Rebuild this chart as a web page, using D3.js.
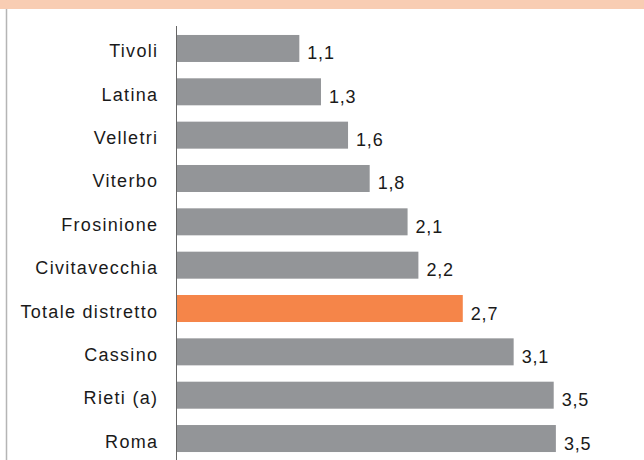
<html>
<head>
<meta charset="utf-8">
<title>Distretti</title>
<style>
body {
	margin: 0;
	background: white;
	font-family: Arial, "Liberation Sans", sans-serif;
}
svg { display: block; }
.cat {
	font-family: Arial, "Liberation Sans", sans-serif;
	font-size: 18px; letter-spacing: 1.3px;
	fill: #1a1a1a;
}
.val {
	font-family: Arial, "Liberation Sans", sans-serif;
	font-size: 18px; letter-spacing: 0.8px;
	fill: #1a1a1a;
}
</style>
</head>
<body>
<svg id="chart"></svg>
<script src="https://cdn.jsdelivr.net/npm/d3@7"></script>
<script>

var categories = ["Tivoli", "Latina", "Velletri", "Viterbo", "Frosinione", "Civitavecchia",
	"Totale distretto", "Cassino", "Rieti (a)", "Roma"];
var values = [1.13, 1.33, 1.58, 1.78, 2.13, 2.23, 2.64, 3.11, 3.48, 3.50];
var valueLabels = ["1,1", "1,3", "1,6", "1,8", "2,1", "2,2", "2,7", "3,1", "3,5", "3,5"];
var highlight = "Totale distretto";

var width = 644, height = 460;
var x0 = 177;

var svg = d3.select("#chart")
	.attr("width", width)
	.attr("height", height);

// peach band on top + left frame line
svg.append("rect")
	.attr("x", 0).attr("y", 0)
	.attr("width", width).attr("height", 9)
	.attr("fill", "#f8cdb3");
svg.append("line")
	.attr("x1", 6.5).attr("x2", 6.5)
	.attr("y1", 9).attr("y2", height)
	.attr("stroke", "#b5b5b5")
	.attr("stroke-width", 1.5);

var x = d3.scaleLinear()
	.domain([0, 4])
	.range([x0, x0 + 433]);

var y = d3.scaleBand()
	.domain(categories)
	.range([26.8, 460.2])
	.paddingInner(0.377)
	.paddingOuter(0.1885);

var rows = categories.map(function(c, i) {
	return {cat: c, value: values[i], label: valueLabels[i]};
});

svg.selectAll(".bar")
	.data(rows)
  .enter().append("rect")
	.attr("class", "bar")
	.attr("x", x(0))
	.attr("y", function(d) { return y(d.cat); })
	.attr("width", function(d) { return x(d.value) - x(0); })
	.attr("height", y.bandwidth())
	.attr("fill", function(d) { return d.cat === highlight ? "#f58549" : "#939598"; });

svg.selectAll(".val")
	.data(rows)
  .enter().append("text")
	.attr("class", "val")
	.attr("x", function(d) { return x(d.value) + 8; })
	.attr("y", function(d) { return y(d.cat) + y.bandwidth() / 2 + 11; })
	.text(function(d) { return d.label; });

svg.selectAll(".cat")
	.data(categories)
  .enter().append("text")
	.attr("class", "cat")
	.attr("text-anchor", "end")
	.attr("x", 158.3)
	.attr("y", function(d) { return y(d) + y.bandwidth() / 2 + 9; })
	.text(function(d) { return d; });

// vertical axis line
svg.append("line")
	.attr("x1", x0 - 0.5).attr("x2", x0 - 0.5)
	.attr("y1", 26).attr("y2", height)
	.attr("stroke", "#666")
	.attr("stroke-width", 1);

</script>
</body>
</html>
